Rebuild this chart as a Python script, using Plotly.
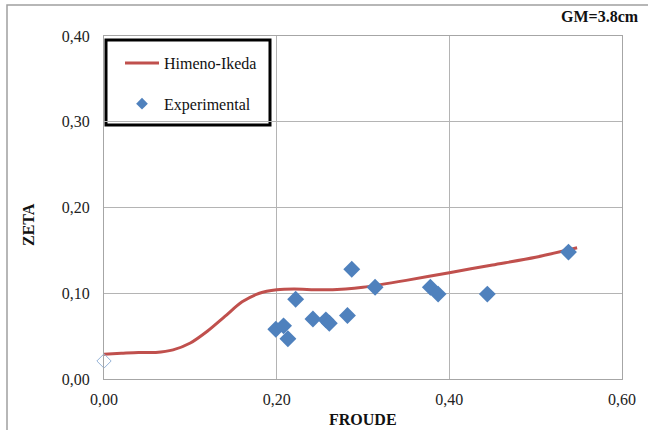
import plotly.graph_objects as go

# Himeno-Ikeda prediction curve
model_froude = [0.00, 0.02, 0.04, 0.06, 0.08, 0.10, 0.12, 0.14, 0.16, 0.18,
                0.20, 0.22, 0.25, 0.28, 0.30, 0.35, 0.40, 0.45, 0.50, 0.548]
model_zeta = [0.029, 0.030, 0.031, 0.031, 0.034, 0.042, 0.056, 0.073, 0.090, 0.100,
              0.104, 0.105, 0.104, 0.105, 0.107, 0.115, 0.124, 0.133, 0.142, 0.153]

# Experimental measurements
exp_froude = [0.199, 0.208, 0.213, 0.222, 0.242, 0.257, 0.261, 0.282, 0.287,
              0.314, 0.378, 0.387, 0.444, 0.538]
exp_zeta = [0.058, 0.062, 0.047, 0.093, 0.070, 0.069, 0.065, 0.074, 0.128,
            0.107, 0.107, 0.099, 0.099, 0.148]

# Zero-speed measurement (hollow marker)
zero_froude = [0.0]
zero_zeta = [0.021]

x_ticks = [0.0, 0.2, 0.4, 0.6]
x_labels = ["0,00", "0,20", "0,40", "0,60"]
y_ticks = [0.0, 0.1, 0.2, 0.3, 0.4]
y_labels = ["0,00", "0,10", "0,20", "0,30", "0,40"]

SERIF = "Liberation Serif"
BLUE = "#4F81BD"
W, H = 648, 430
ML, MR, MT, MB = 104, 26, 36, 51
PW, PH = W - ML - MR, H - MT - MB


def px_to_paper_x(px):
    return (px - ML) / PW


def px_to_paper_y(py):
    return (H - MB - py) / PH


fig = go.Figure()

fig.add_trace(go.Scatter(
    x=model_froude, y=model_zeta, mode="lines", name="Himeno-Ikeda",
    line=dict(color="#C0504D", width=3, shape="spline", smoothing=0.8),
    legendgroup="a",
))
fig.add_trace(go.Scatter(
    x=exp_froude, y=exp_zeta, mode="markers", name="Experimental",
    marker=dict(symbol="diamond", size=13, color=BLUE, line=dict(width=0)),
    legendgroup="b", showlegend=False,
))
# legend key for the experimental series (smaller symbol in the key)
fig.add_trace(go.Scatter(
    x=[None], y=[None], mode="markers", name="Experimental",
    marker=dict(symbol="diamond", size=9, color=BLUE, line=dict(width=0)),
    legendgroup="b",
))
fig.add_trace(go.Scatter(
    x=zero_froude, y=zero_zeta, mode="markers", showlegend=False,
    marker=dict(symbol="diamond-open", size=11, color="#95B3D7",
                line=dict(width=1)),
    cliponaxis=False,
))

axis_common = dict(
    showgrid=True, gridcolor="#B4B4B4", gridwidth=1,
    showline=True, linecolor="#A6A6A6", linewidth=1, mirror=True,
    zeroline=False, ticks="", tickfont=dict(family=SERIF, size=16, color="#222"),
)

fig.update_xaxes(range=[0, 0.6], tickvals=x_ticks, ticktext=x_labels,
                 ticklabelstandoff=6, **axis_common)
fig.update_yaxes(range=[0, 0.4], tickvals=y_ticks, ticktext=y_labels,
                 ticklabelstandoff=10, **axis_common)

fig.update_layout(
    width=W, height=H,
    margin=dict(l=ML, r=MR, t=MT, b=MB),
    paper_bgcolor="white", plot_bgcolor="white",
    font=dict(family=SERIF, color="#111"),
    showlegend=True,
    legend=dict(
        x=px_to_paper_x(120), y=px_to_paper_y(46), xanchor="left", yanchor="top",
        bgcolor="rgba(0,0,0,0)", borderwidth=0,
        font=dict(family=SERIF, size=16, color="#111"),
        traceorder="grouped", tracegroupgap=17, itemwidth=34,
    ),
    shapes=[
        # legend frame
        dict(type="rect", xref="paper", yref="paper",
             x0=px_to_paper_x(106), x1=px_to_paper_x(270),
             y0=px_to_paper_y(125), y1=px_to_paper_y(40),
             line=dict(color="black", width=3), fillcolor="white", layer="below"),
        # outer chart frame
        dict(type="rect", xref="paper", yref="paper",
             x0=px_to_paper_x(7), x1=px_to_paper_x(660),
             y0=px_to_paper_y(440), y1=px_to_paper_y(5),
             line=dict(color="#A0A0A0", width=1.5), layer="below"),
    ],
    annotations=[
        dict(text="<b>GM=3.8cm</b>", xref="paper", yref="paper",
             x=px_to_paper_x(600), y=px_to_paper_y(17),
             xanchor="center", yanchor="middle", showarrow=False,
             font=dict(family=SERIF, size=16, color="#111")),
        dict(text="<b>FROUDE</b>", xref="paper", yref="paper",
             x=px_to_paper_x(363), y=px_to_paper_y(419),
             xanchor="center", yanchor="middle", showarrow=False,
             font=dict(family=SERIF, size=16, color="#111")),
        dict(text="<b>ZETA</b>", xref="paper", yref="paper",
             x=px_to_paper_x(29), y=px_to_paper_y(225), textangle=-90,
             xanchor="center", yanchor="middle", showarrow=False,
             font=dict(family=SERIF, size=16, color="#111")),
    ],
)

fig.write_html("out.html")
